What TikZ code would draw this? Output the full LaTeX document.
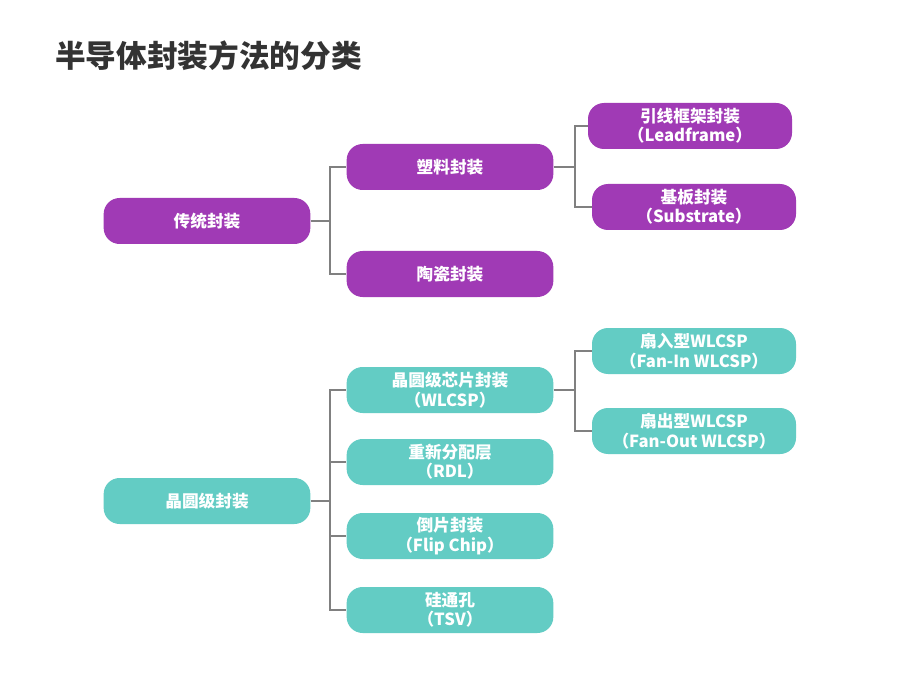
\documentclass[tikz,border=0pt]{standalone}
\usepackage{fontspec}
\newfontfamily\cjk{Noto Sans CJK SC}
\usepackage{tikz}
\usetikzlibrary{calc,positioning}

\definecolor{tradpurple}{HTML}{A03AB5}
\definecolor{wafteal}{HTML}{63CCC4}
\definecolor{linkgray}{HTML}{808080}
\definecolor{titlegray}{HTML}{333333}

\tikzset{
  pkg/.style={rounded corners=12pt, minimum width=155pt, minimum height=34.5pt,
    inner sep=0pt, text=white, align=center,
    font=\cjk\bfseries\fontsize{12.5pt}{14.5pt}\selectfont},
  trad/.style={pkg, fill=tradpurple},
  waf/.style={pkg, fill=wafteal},
  link/.style={draw=linkgray, line width=1.5pt}
}

\begin{document}
\begin{tikzpicture}[x=0.75pt,y=-0.75pt]
  \fill[white] (0,0) rectangle (900,681);

  %% Title
  \node[anchor=west, inner sep=0pt, text=titlegray,
    font=\cjk\bfseries\fontsize{23pt}{26pt}\selectfont] (TITLE) at (55,56) {半导体封装方法的分类};

  %% Traditional packaging branch
  \node[trad] (TRAD) at (207,221) {传统封装};
  \node[trad] (PLAS) at (450,167) {塑料封装};
  \node[trad] (CERA) at (450,274) {陶瓷封装};
  \node[trad, minimum width=153pt] (LEAD) at (690,126) {引线框架封装\\（Leadframe）};
  \node[trad, minimum width=153pt] (SUBS) at (694,207) {基板封装\\（Substrate）};

  %% Wafer level packaging branch
  \node[waf] (WAFL) at (207,501) {晶圆级封装};
  \node[waf] (WLCSP) at (450,390) {晶圆级芯片封装\\（WLCSP）};
  \node[waf] (RDL) at (450,462) {重新分配层\\（RDL）};
  \node[waf] (FLIP) at (450,536) {倒片封装\\（Flip Chip）};
  \node[waf] (TSV) at (450,610) {硅通孔\\（TSV）};
  \node[waf, minimum width=153pt] (FANIN) at (694,351) {扇入型WLCSP\\（Fan-In WLCSP）};
  \node[waf, minimum width=153pt] (FANOUT) at (694,431) {扇出型WLCSP\\（Fan-Out WLCSP）};

  %% Connectors
  \coordinate (J1) at ($(TRAD.east)+(19,0)$);
  \draw[link] (TRAD.east) -- (J1);
  \foreach \n in {PLAS,CERA}
    \draw[link] (J1) |- (\n.west);

  \coordinate (J2) at ($(PLAS.east)+(21,0)$);
  \draw[link] (PLAS.east) -- (J2);
  \foreach \n in {LEAD,SUBS}
    \draw[link] (J2) |- (\n.west);

  \coordinate (J3) at ($(WAFL.east)+(19,0)$);
  \draw[link] (WAFL.east) -- (J3);
  \foreach \n in {WLCSP,RDL,FLIP,TSV}
    \draw[link] (J3) |- (\n.west);

  \coordinate (J4) at ($(WLCSP.east)+(21,0)$);
  \draw[link] (WLCSP.east) -- (J4);
  \foreach \n in {FANIN,FANOUT}
    \draw[link] (J4) |- (\n.west);
\end{tikzpicture}
\end{document}
